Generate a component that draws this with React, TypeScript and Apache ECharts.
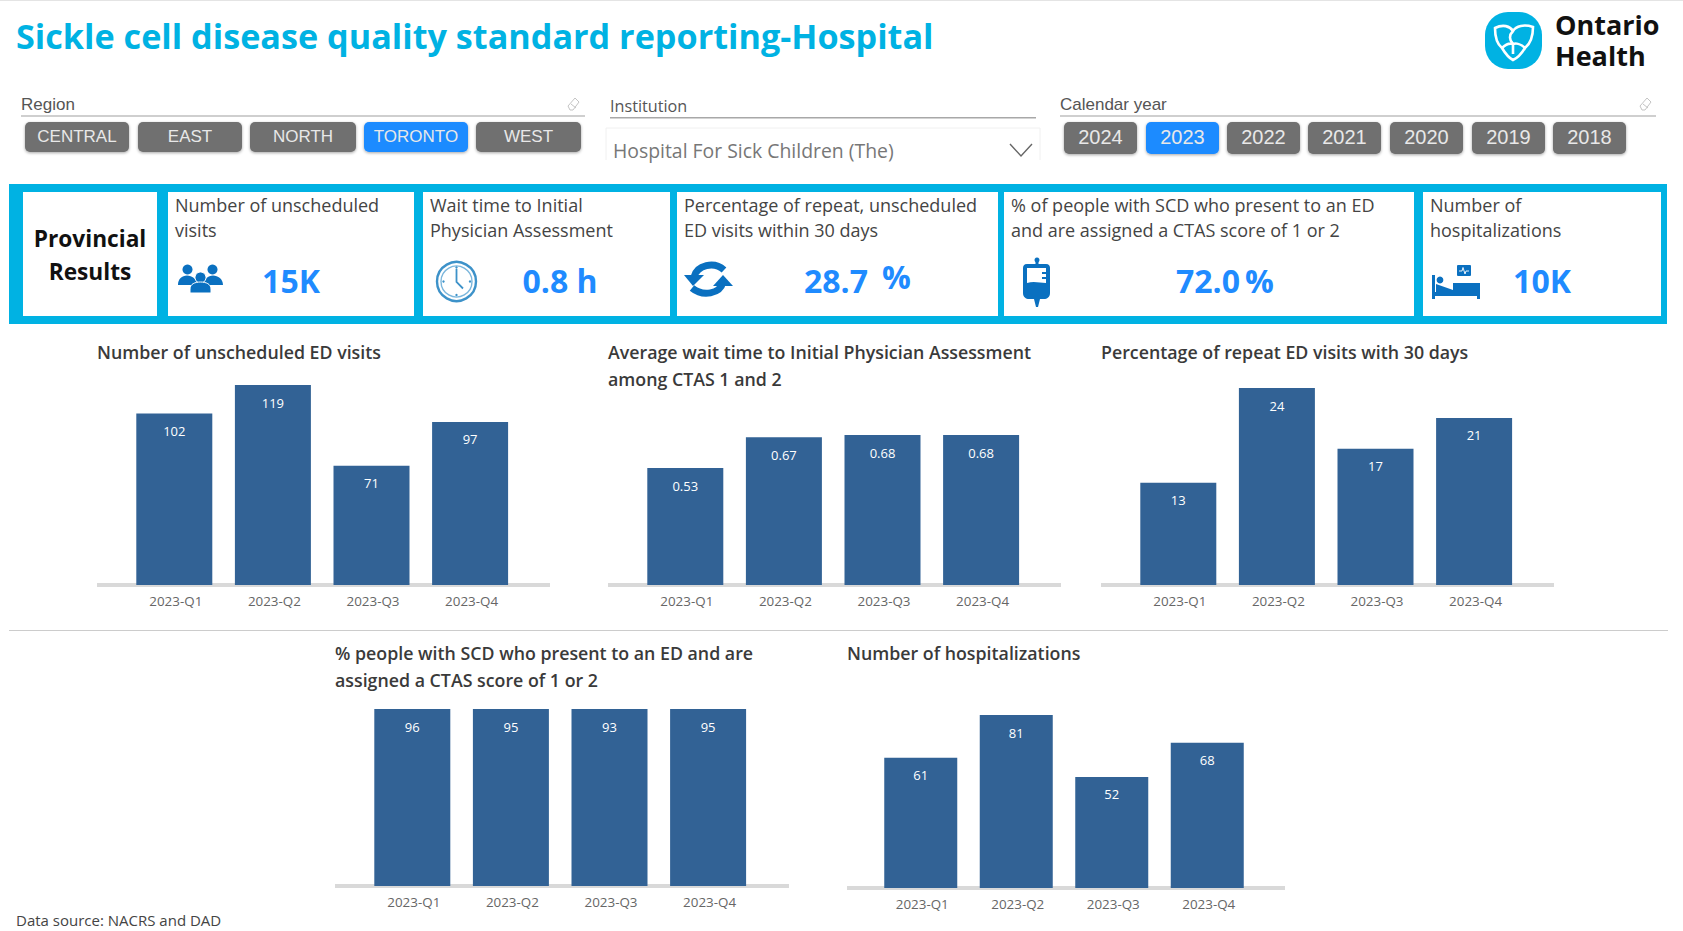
import React, { useEffect, useRef } from "react";
import * as echarts from "echarts";

const quarters = ["2023-Q1", "2023-Q2", "2023-Q3", "2023-Q4"];
const edVisits = [102, 119, 71, 97];
const waitTime = [0.53, 0.67, 0.68, 0.68];
const repeatVisits = [12.6, 24.3, 16.8, 20.6];
const ctasShare = [96, 95, 93, 95];
const hospitalizations = [61, 81, 52, 68];
const regions = ["CENTRAL", "EAST", "NORTH", "TORONTO", "WEST"];
const years = ["2024", "2023", "2022", "2021", "2020", "2019", "2018"];

const SANS = '"Open Sans", sans-serif';
const ARIAL = '"Liberation Sans", sans-serif';
const CYAN = "#00b2e3";
const BLUE = "#1f8bff";
const ICON = "#0a70c0";
const BAR = "#326295";

const P: Record<string, string> = {
  logoMark: "M1495,28 C1503,24 1510,26 1513,31 C1516,26 1524,24 1533,27 C1533,36 1530,44 1525,48 C1522,53 1518,58 1513,60 C1509,58 1505,53 1502,48 C1497,44 1495,36 1495,28 Z M1513,31 C1509,35 1509,40 1513,44 M1502,48 C1506,44 1510,43 1513,44 C1516,43 1521,44 1525,48 M1513,44 L1513,54",
  peopleBack: "M178,285 C178,279 182,275.5 187,275.5 C192,275.5 197,279 197,285 Z M204,285 C204,279 208,275.5 213,275.5 C218,275.5 223,279 223,285 Z",
  peopleFront: "M190,293 L190,289 C190,284 195,282 200.500,282 C206,282 211,284 211,289 L211,293 Z",
  hands: "M456.500,269 L456.500,282 L463,288.500",
  refreshTop: "M694,277 C697,265 714,261 724,270",
  refreshBottom: "M723,282 C720,294 703,297 692,288",
  arrowLeft: "M684,275 L704,275 L693,286 Z",
  arrowRight: "M713,286 L733,286 L723,275 Z",
  bagBody: "M1027,264 L1046,264 C1049,264 1050,266 1050,268 L1050,293 C1050,297 1047,299 1044,299 L1029,299 C1026,299 1023,297 1023,293 L1023,268 C1023,266 1024,264 1027,264 Z M1035.500,264 L1035.500,260 L1038.500,260 L1038.500,264 Z M1034,299 L1040,299 L1038,307 L1036,307 Z",
  bagWindow: "M1027,268 L1046,268 L1046,272 L1042,272 L1042,274 L1046,274 L1046,277 L1042,277 L1042,279 L1046,279 L1046,283 C1040,283 1034,281 1027,283 Z",
  bed: "M1432,275 L1435,275 L1435,292 L1453,292 L1453,283 L1480,283 L1480,299 L1477,299 L1477,296 L1435,296 L1435,299 L1432,299 Z M1436,284 L1453,290 L1453,293 L1436,293 Z",
  pulse: "M1459,271 L1462,271 L1463,267.500 L1465,274 L1466,271 L1469,271",
  chevron: "M1010,144 L1021,156 L1032,144",
  eraser: "M0,9 L7,1 L11,5 L5,13 L2,13 Z M3,7 L8,11",
};
Object.keys(P).forEach((k) => echarts.graphic.registerShape("sk_" + k, echarts.graphic.extendPath(P[k], {})));

const shape = (k: string, style: any, extra: any = {}) => ({ type: "sk_" + k, x: 0, y: 0, style, ...extra });
const rect = (x: number, y: number, w: number, h: number, fill: string, r = 0, extra: any = {}) => ({
  type: "rect", shape: { x, y, width: w, height: h, r }, style: { fill, ...extra },
});
const text = (t: string, x: number, y: number, font: string, fill: string, align = "left", extra: any = {}) => ({
  type: "text", style: { text: t, x, y, font, fill, textAlign: align, textVerticalAlign: "middle", ...extra },
});

const buttonShadow = { shadowBlur: 3, shadowColor: "rgba(0,0,0,0.35)", shadowOffsetY: 1 };

function slicerButtons() {
  const out: any[] = [];
  const rx = [[25, 104], [138, 104], [250, 106], [364, 104], [476, 105]];
  regions.forEach((r, i) => {
    const [x, w] = rx[i];
    out.push(rect(x, 122, w, 30, r === "TORONTO" ? BLUE : "#6f6f6f", 5, buttonShadow));
    out.push(text(r, x + w / 2, 136, `17px ${ARIAL}`, "#e8e8e8", "center"));
  });
  const yx = [1064, 1146, 1227, 1308, 1390, 1472, 1553];
  years.forEach((y, i) => {
    out.push(rect(yx[i], 122, 73, 32, y === "2023" ? BLUE : "#6f6f6f", 5, buttonShadow));
    out.push(text(y, yx[i] + 36.5, 137, `20px ${ARIAL}`, "#e8e8e8", "center"));
  });
  return out;
}

function header() {
  return [
    rect(0, 0, 1683, 1, "#e4e4e4"),
    text("Sickle cell disease quality standard reporting-Hospital", 16, 35, `bold 34.2px ${SANS}`, "#00b2e3"),
    rect(1485, 12, 57, 57, CYAN, 23),
    shape("logoMark", { fill: null, stroke: "#fff", lineWidth: 2.6 }),
    text("Ontario\nHealth", 1555, 39.5, `bold 27px ${SANS}`, "#111", "left", { lineHeight: 31 }),

    text("Region", 21, 104, `17px ${ARIAL}`, "#555"),
    rect(21, 115, 564, 2, "#cfcfcf"),
    shape("eraser", { fill: "#fff", stroke: "#c4c4c4", lineWidth: 1 }, { x: 568, y: 97 }),
    text("Institution", 610, 106, `16.200px ${SANS}`, "#555"),
    rect(610, 117, 426, 1.5, "#a8a8a8"),
    rect(606, 128, 434, 39, "#ffffff", 0, { stroke: "#f0f0f0", lineWidth: 1 }),
    rect(605, 160, 436, 9, "#ffffff"),
    text("Hospital For Sick Children (The)", 613, 150, `19.400px ${SANS}`, "#777"),
    shape("chevron", { fill: null, stroke: "#666", lineWidth: 1.4 }),
    text("Calendar year", 1060, 104, `17px ${ARIAL}`, "#555"),
    rect(1060, 115, 596, 2, "#cfcfcf"),
    shape("eraser", { fill: "#fff", stroke: "#c4c4c4", lineWidth: 1 }, { x: 1640, y: 97 }),
    ...slicerButtons(),
  ];
}

function banner() {
  const cards = [
    [168, 246, ["Number of unscheduled", "visits"], 175],
    [423, 247, ["Wait time to Initial", "Physician Assessment"], 430],
    [677, 321, ["Percentage of repeat, unscheduled", "ED visits within 30 days"], 684],
    [1004, 410, ["% of people with SCD who present to an ED", "and are assigned a CTAS score of 1 or 2"], 1011],
    [1423, 238, ["Number of", "hospitalizations"], 1430],
  ] as const;
  const out: any[] = [
    rect(9, 184, 1658, 140, CYAN),
    rect(23, 192, 134, 124, "#fff"),
    text("Provincial", 90, 238, `bold 22.700px ${SANS}`, "#111", "center"),
    text("Results", 90, 271, `bold 22.700px ${SANS}`, "#111", "center"),
  ];
  cards.forEach(([x, w, lines, tx]) => {
    out.push(rect(x, 192, w, 124, "#fff"));
    out.push(text(lines[0], tx, 204.5, `18px ${SANS}`, "#444"));
    out.push(text(lines[1], tx, 229.5, `18px ${SANS}`, "#444"));
  });
  const big = `bold 32px ${SANS}`;
  out.push(text("15K", 291, 280, big, BLUE, "center"));
  out.push(text("0.8 h", 560, 280, big, BLUE, "center"));
  out.push(text("28.7", 804, 280, big, BLUE));
  out.push(text("%", 882, 276, big, BLUE));
  out.push(text("72.0", 1176, 280, big, BLUE));
  out.push(text("%", 1245, 280, big, BLUE));
  out.push(text("10K", 1542, 280, big, BLUE, "center"));

  // icons
  out.push(shape("peopleBack", { fill: ICON }));
  out.push({ type: "circle", shape: { cx: 187.5, cy: 269.5, r: 5 }, style: { fill: ICON } });
  out.push({ type: "circle", shape: { cx: 212.5, cy: 269.5, r: 5 }, style: { fill: ICON } });
  out.push({ type: "circle", shape: { cx: 200.5, cy: 277.5, r: 5.5 }, style: { fill: ICON, stroke: "#fff", lineWidth: 1 } });
  out.push(shape("peopleFront", { fill: ICON, stroke: "#fff", lineWidth: 1 }));

  out.push({ type: "circle", shape: { cx: 456.5, cy: 281.5, r: 19.5 }, style: { fill: "#fff", stroke: "#3d92c9", lineWidth: 2.4 } });
  out.push({ type: "circle", shape: { cx: 456.5, cy: 281.5, r: 15.5 }, style: { fill: "#fff", stroke: "#7ab6dc", lineWidth: 1.4 } });
  out.push(shape("hands", { fill: null, stroke: "#3d92c9", lineWidth: 1.8 }));
  [[456.5, 267.5], [456.5, 295], [443.5, 281.5], [470, 281.5]].forEach(([cx, cy]) =>
    out.push({ type: "circle", shape: { cx, cy, r: 1.2 }, style: { fill: "#3d92c9" } })
  );

  out.push(shape("refreshTop", { fill: null, stroke: ICON, lineWidth: 7 }));
  out.push(shape("refreshBottom", { fill: null, stroke: ICON, lineWidth: 7 }));
  out.push(shape("arrowLeft", { fill: ICON }));
  out.push(shape("arrowRight", { fill: ICON }));

  out.push(shape("bagBody", { fill: ICON }));
  out.push({ type: "circle", shape: { cx: 1037, cy: 260, r: 2.5 }, style: { fill: ICON } });
  out.push(shape("bagWindow", { fill: "#fff" }));

  out.push(shape("bed", { fill: ICON }));
  out.push({ type: "circle", shape: { cx: 1440, cy: 280, r: 3.4 }, style: { fill: ICON } });
  out.push(rect(1457, 265, 14, 11, ICON, 1));
  out.push(shape("pulse", { fill: null, stroke: "#fff", lineWidth: 0.9 }));
  return out;
}

const round0 = (p: any) => String(Math.round(p.value));
const fixed2 = (p: any) => Number(p.value).toFixed(2);

const panels = [
  { title: ["Number of unscheduled ED visits"], tx: 97, ty: 352, base: [97, 550], left: 125, step: 98.6, bw: 76, top: 385, bottom: 585, max: 119, data: edVisits, fmt: round0 },
  { title: ["Average wait time to Initial Physician Assessment", "among CTAS 1 and 2"], tx: 608, ty: 352, base: [608, 1061], left: 636, step: 98.6, bw: 76, top: 435, bottom: 585, max: 0.68, data: waitTime, fmt: fixed2 },
  { title: ["Percentage of repeat ED visits with 30 days"], tx: 1101, ty: 352, base: [1101, 1554], left: 1129, step: 98.6, bw: 76, top: 388, bottom: 585, max: 24.3, data: repeatVisits, fmt: round0 },
  { title: ["% people with SCD who present to an ED and are", "assigned a CTAS score of 1 or 2"], tx: 335, ty: 653, base: [335, 789], left: 363, step: 98.6, bw: 76, top: 709, bottom: 886, max: 90, data: ctasShare, fmt: round0 },
  { title: ["Number of hospitalizations"], tx: 847, ty: 653, base: [847, 1285], left: 873, step: 95.5, bw: 73, top: 715, bottom: 888, max: 81, data: hospitalizations, fmt: round0 },
];

function panelGraphics() {
  const out: any[] = [rect(9, 630, 1659, 1, "#cccccc")];
  panels.forEach((p) => {
    p.title.forEach((t, i) => out.push(text(t, p.tx, p.ty + i * 26.5, `600 17.800px ${SANS}`, "#3a3a3a")));
    out.push(rect(p.base[0], p.bottom - 2, p.base[1] - p.base[0], 4, "#d9d9d9"));
  });
  out.push(text("Data source: NACRS and DAD", 16, 920, `15px ${SANS}`, "#444"));
  return out;
}

export default function App() {
  const ref = useRef<HTMLDivElement>(null);
  useEffect(() => {
    document.body.style.margin = "0";
    const chart = echarts.init(ref.current!, null, { renderer: "svg" });
    chart.setOption({
      animation: false,
      backgroundColor: "#fff",
      graphic: { elements: [...header(), ...banner(), ...panelGraphics()] },
      grid: panels.map((p) => ({ left: p.left, width: p.step * 4, top: p.top, height: p.bottom - p.top, containLabel: false })),
      xAxis: panels.map((_, i) => ({
        type: "category", gridIndex: i, data: quarters,
        axisLine: { show: false }, axisTick: { show: false },
        axisLabel: { color: "#666", fontFamily: SANS, fontSize: 13.4, margin: 9, padding: [0, 0, 0, 3] },
      })),
      yAxis: panels.map((p, i) => ({ type: "value", gridIndex: i, min: 0, max: p.max, show: false, splitLine: { show: false } })),
      series: panels.map((p, i) => ({
        type: "bar", xAxisIndex: i, yAxisIndex: i, data: p.data, barWidth: p.bw, clip: true,
        itemStyle: { color: BAR },
        label: { show: true, position: "insideTop", distance: 11, color: "#fff", fontFamily: SANS, fontSize: 13, fontWeight: 500, formatter: p.fmt },
      })),
    });
    return () => chart.dispose();
  }, []);
  return <div ref={ref} style={{ position: "absolute", left: 0, top: 0, width: 1683, height: 931 }} />;
}
